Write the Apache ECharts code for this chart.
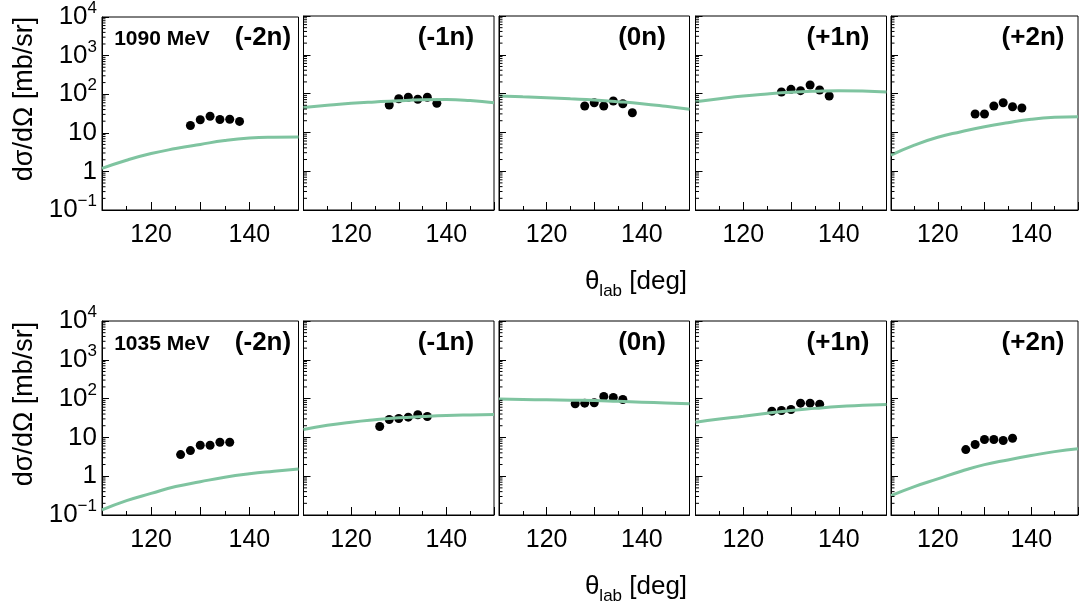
<!DOCTYPE html>
<html><head><meta charset="utf-8">
<script src="https://cdn.jsdelivr.net/npm/echarts@6/dist/echarts.min.js"></script>
<style>html,body{margin:0;padding:0;background:#fff;} #c{width:1081px;height:602px;}</style>
</head><body><div id="c"></div>
<script>
// ---- data ----
const panelLabels = ['(-2n)', '(-1n)', '(0n)', '(+1n)', '(+2n)'];
const energyLabels = ['1090 MeV', '1035 MeV'];
const xTickLabels = [120, 140];
const curveAngles = [110, 115, 120, 125, 130, 135, 140, 145, 150];
const curve1090m2 = [1.2, 1.95, 2.9, 3.9, 5.0, 6.3, 7.3, 7.7, 7.8];
const curve1090m1 = [44, 50, 56, 61, 65.6, 69, 70, 66, 58];
const curve1090z0 = [86.7, 82.5, 78.5, 73.5, 68.4, 62, 55, 47, 39.4];
const curve1090p1 = [62, 74, 87, 98, 108, 115, 119, 117, 110];
const curve1090p2 = [2.6, 4.7, 7.5, 10.4, 14.0, 17.8, 21.8, 24.5, 25.4];
const curve1035m2 = [0.135, 0.234, 0.36, 0.54, 0.72, 0.94, 1.15, 1.34, 1.54];
const curve1035m1 = [16, 20.5, 24.7, 28.5, 32, 34.5, 36.7, 38, 38.9];
const curve1035z0 = [97, 95, 93, 91, 89.6, 85, 81, 77, 73.6];
const curve1035p1 = [24.7, 30, 35.2, 42, 49.4, 56, 62.7, 67, 70.6];
const curve1035p2 = [0.315, 0.54, 0.85, 1.34, 1.99, 2.63, 3.4, 4.3, 5.07];
const angles1090 = [128, 130, 132, 134, 136, 138];
const angles1035 = [126, 128, 130, 132, 134, 136];
const data1090m2 = [15.5, 21.8, 26.9, 22.1, 22.5, 19.7];
const data1090m1 = [50.8, 73.9, 80.4, 71.3, 80.4, 56.2];
const data1090z0 = [47.9, 58.2, 47.9, 64.4, 54.9, 32.2];
const data1090p1 = [110, 129, 119, 167, 124, 86.7];
const data1090p2 = [29.8, 29.8, 47.9, 58.2, 45.9, 42.5];
const data1035m2 = [3.6, 4.58, 6.28, 6.28, 7.5, 7.5];
const data1035m1 = [19.1, 28.9, 30.7, 33.2, 38.3, 34.6];
const data1035z0 = [73.6, 76.2, 78.1, 113.5, 107, 95];
const data1035p1 = [47.4, 49.4, 52.5, 76.3, 76.3, 71.8];
const data1035p2 = [4.85, 6.54, 8.81, 8.81, 8.3, 9.5];

const rows = [
  {angles: angles1090, curves: [curve1090m2, curve1090m1, curve1090z0, curve1090p1, curve1090p2],
   data: [data1090m2, data1090m1, data1090z0, data1090p1, data1090p2]},
  {angles: angles1035, curves: [curve1035m2, curve1035m1, curve1035z0, curve1035p1, curve1035p2],
   data: [data1035m2, data1035m1, data1035z0, data1035p1, data1035p2]}
];

// ---- layout ----
const gridLefts = [102, 303.5, 499, 695.5, 891];
const gridWidths = [196.5, 190.5, 190.5, 191, 192];
const rowTops = [16, 321];
const rowHeight = 194;
const labelCenters = [263, 446, 642, 838, 1033];
const FONT = '"Liberation Sans", Arial, sans-serif';
const GREEN = '#7fc4a0';

const minorVals = [];
for (let k = -1; k < 4; k++) for (let m = 2; m <= 9; m++) minorVals.push(m * Math.pow(10, k));

const grid = [], xAxis = [], yAxis = [], series = [], graphic = [];
rows.forEach((row, r) => {
  for (let c = 0; c < 5; c++) {
    const idx = r * 5 + c;
    grid.push({left: gridLefts[c], top: rowTops[r], width: gridWidths[c], height: rowHeight,
      show: true, borderColor: '#000', borderWidth: 1, backgroundColor: 'transparent'});
    xAxis.push({type: 'value', gridIndex: idx, min: 110, max: 150, interval: 10,
      axisLine: {show: true, onZero: false, lineStyle: {color: '#000', width: 1}},
      axisTick: {show: true, inside: true, length: 8, lineStyle: {color: '#000'}},
      minorTick: {show: true, splitNumber: 2, length: 4, lineStyle: {color: '#000'}},
      splitLine: {show: false},
      axisLabel: {show: true, margin: 13, fontSize: 25, color: '#000', fontFamily: FONT,
        formatter: v => xTickLabels.indexOf(v) >= 0 ? String(v) : ''}});
    yAxis.push({type: 'log', logBase: 10, gridIndex: idx, min: 0.1, max: 10000, splitNumber: 5,
      axisLine: {show: true, lineStyle: {color: '#000', width: 1}},
      axisTick: {show: true, inside: true, length: 7, lineStyle: {color: '#000'}},
      splitLine: {show: false},
      axisLabel: {show: c === 0, margin: 5, fontSize: 26, color: '#000', fontFamily: FONT,
        formatter: v => {
          const e = Math.round(Math.log10(v));
          if (e === 0) return '1';
          if (e === 1) return '10';
          return '10{sup|' + (e < 0 ? '\u2212' + (-e) : e) + '}';
        },
        rich: {sup: {fontSize: 17, verticalAlign: 'top', lineHeight: 34, color: '#000', fontFamily: FONT}}}});
    series.push({type: 'scatter', xAxisIndex: idx, yAxisIndex: idx, symbol: 'circle', symbolSize: 9,
      itemStyle: {color: '#000', opacity: 1}, z: 2, silent: true,
      data: row.angles.map((a, i) => [a, row.data[c][i]])});
    series.push({type: 'line', xAxisIndex: idx, yAxisIndex: idx, smooth: true, showSymbol: false,
      lineStyle: {color: GREEN, width: 3}, z: 3, silent: true,
      data: curveAngles.map((a, i) => [a, row.curves[c][i]])});
    series.push({type: 'custom', xAxisIndex: idx, yAxisIndex: idx, silent: true, z: 4,
      data: minorVals.map(v => [110, v]),
      renderItem: (params, api) => {
        const p = api.coord([api.value(0), api.value(1)]);
        return {type: 'line', shape: {x1: p[0], y1: p[1], x2: p[0] + 3.5, y2: p[1]},
          style: {stroke: '#000', lineWidth: 1}};
      }});
    graphic.push({type: 'text', x: labelCenters[c], y: rowTops[r] + 22, z: 10,
      style: {text: panelLabels[c], font: 'bold 26px ' + FONT, fill: '#000',
        align: 'center', verticalAlign: 'middle'}});
  }
  graphic.push({type: 'text', x: 162, y: rowTops[r] + 23, z: 10,
    style: {text: energyLabels[r], font: 'bold 21px ' + FONT, fill: '#000',
      align: 'center', verticalAlign: 'middle'}});
  graphic.push({type: 'text', x: 25, y: rowTops[r] + 83, rotation: Math.PI / 2, z: 10,
    style: {text: 'd\u03c3/d\u03a9 [mb/sr]', font: '27px ' + FONT, fill: '#000',
      align: 'center', verticalAlign: 'middle'}});
  graphic.push({type: 'text', x: 636, y: rowTops[r] + 266, z: 10,
    style: {text: '{a|\u03b8}{b|lab}{a| [deg]}', align: 'center', verticalAlign: 'middle', fill: '#000',
      rich: {a: {fontSize: 26, lineHeight: 36, fontFamily: FONT, fill: '#000'},
             b: {fontSize: 17, lineHeight: 17, verticalAlign: 'bottom', fontFamily: FONT, fill: '#000'}}}});
});

const chart = echarts.init(document.getElementById('c'), null, {renderer: 'canvas'});
chart.setOption({animation: false, backgroundColor: '#fff', grid, xAxis, yAxis, series, graphic});
</script>
</body></html>
